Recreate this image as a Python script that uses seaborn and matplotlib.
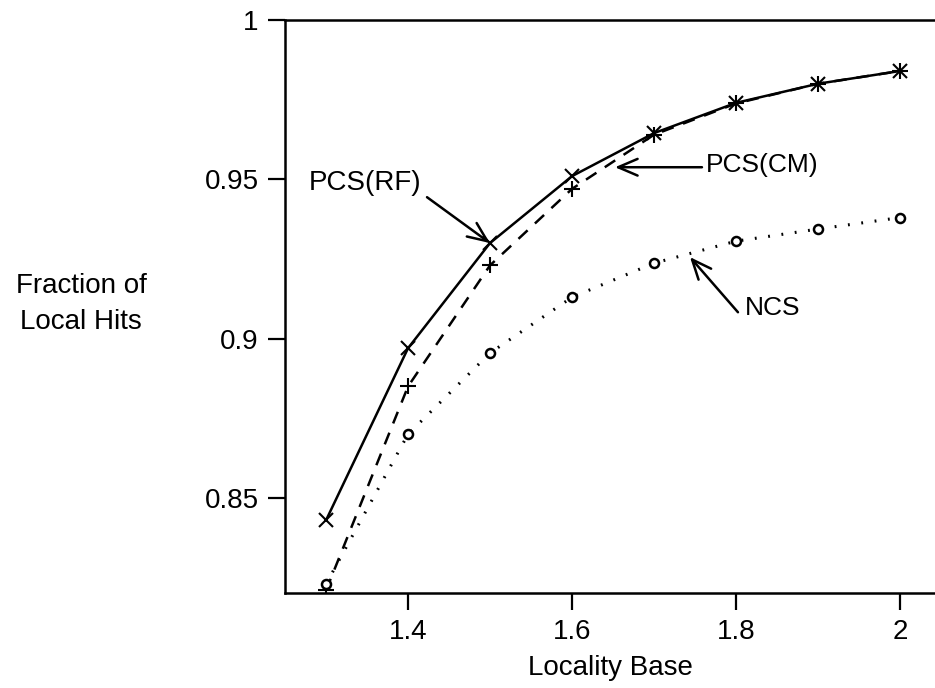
import pandas as pd
import matplotlib
matplotlib.use("Agg")
import matplotlib.pyplot as plt
import seaborn as sns

# values
locality_base = [1.3, 1.4, 1.5, 1.6, 1.7, 1.8, 1.9, 2.0]
pcs_rf = [0.843, 0.897, 0.930, 0.951, 0.9645, 0.974, 0.980, 0.984]
pcs_cm = [0.821, 0.885, 0.923, 0.947, 0.964, 0.9738, 0.980, 0.984]
ncs = [0.823, 0.870, 0.8955, 0.913, 0.9237, 0.9306, 0.9344, 0.938]

x_ticks = [1.4, 1.6, 1.8, 2.0]
x_tick_labels = ["1.4", "1.6", "1.8", "2"]
y_ticks = [0.85, 0.90, 0.95, 1.0]
y_tick_labels = ["0.85", "0.9", "0.95", "1"]

sns.set_style("ticks")
plt.rcParams['font.family'] = ['Liberation Sans', 'DejaVu Sans']
plt.rcParams['text.color'] = 'black'

fig = plt.figure(figsize=(9.35, 6.88), dpi=100)
ax = fig.add_axes([285 / 935, 1 - 593 / 688, 1 - 285 / 935, (593 - 20) / 688])

df_rf = pd.DataFrame({"x": locality_base, "y": pcs_rf})
df_cm = pd.DataFrame({"x": locality_base, "y": pcs_cm})
df_ncs = pd.DataFrame({"x": locality_base, "y": ncs})

sns.lineplot(data=df_rf, x="x", y="y", ax=ax, color="black", linewidth=1.8,
             marker="x", markersize=10, markeredgewidth=1.5, markeredgecolor="black")
sns.lineplot(data=df_cm, x="x", y="y", ax=ax, color="black", linewidth=1.8,
             linestyle=(0, (5, 4)), marker="+", markersize=12, markeredgewidth=1.5,
             markeredgecolor="black")
sns.lineplot(data=df_ncs, x="x", y="y", ax=ax, color="black", linewidth=2.2,
             linestyle=(0, (0.6, 3.8)), marker="o", markersize=6.5,
             markerfacecolor="white", markeredgecolor="black", markeredgewidth=1.8)

ax.set_xlim(1.25, 2.0427)
ax.set_ylim(0.8202, 1.0)
ax.set_xticks(x_ticks)
ax.set_xticklabels(x_tick_labels)
ax.set_yticks(y_ticks)
ax.set_yticklabels(y_tick_labels)
ax.tick_params(axis="both", direction="out", length=12, width=1.6,
               labelsize=20, colors="black", pad=7)

for side in ["left", "bottom", "top"]:
    ax.spines[side].set_linewidth(1.8)
    ax.spines[side].set_color("black")
ax.spines["right"].set_visible(False)

ax.set_xlabel("Locality Base", fontsize=20, labelpad=7, color="black")
ax.set_ylabel("")
fig.text(81 / 935, 1 - 304 / 688, "Fraction of\nLocal Hits", fontsize=20,
         ha="center", va="center", linespacing=1.5)

# annotations with open arrow heads
arrow = dict(arrowstyle="->,head_length=0.7,head_width=0.3", color="black",
             lw=1.8, mutation_scale=20, shrinkA=0, shrinkB=0)
ax.annotate("", xy=(1.5, 0.930), xytext=(1.4232, 0.9444), arrowprops=arrow)
ax.text(1.3476, 0.9488, "PCS(RF)", fontsize=20, ha="center", va="center")

ax.annotate("", xy=(1.6524, 0.9538), xytext=(1.7585, 0.9538), arrowprops=arrow)
ax.text(1.7630, 0.9545, "PCS(CM)", fontsize=19, ha="left", va="center")

ax.annotate("", xy=(1.7439, 0.9256), xytext=(1.8024, 0.9083), arrowprops=arrow)
ax.text(1.8110, 0.9096, "NCS", fontsize=19, ha="left", va="center")

fig.savefig("out.png", dpi=100)
